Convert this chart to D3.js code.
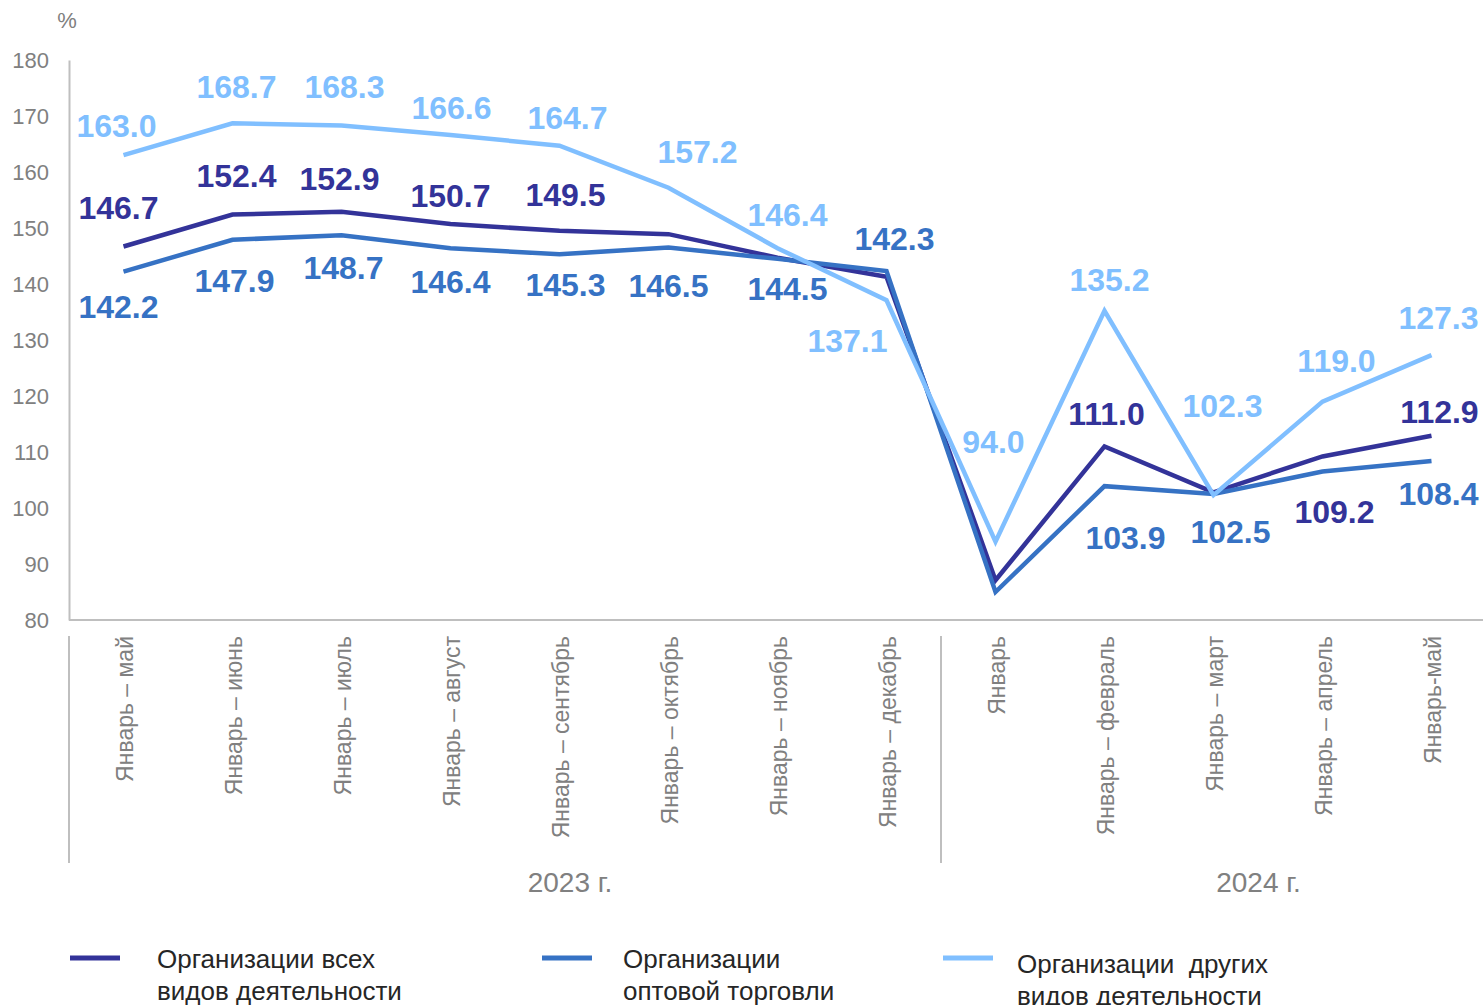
<!DOCTYPE html>
<html><head><meta charset="utf-8">
<script src="https://cdn.jsdelivr.net/npm/d3@7"></script>
<style>body{margin:0;background:#fff}svg{display:block}text{font-family:"Liberation Sans",Arial,sans-serif}</style>
</head><body><svg id="c" width="1483" height="1005"></svg>
<script>
const categories = ["Январь – май","Январь – июнь","Январь – июль","Январь – август","Январь – сентябрь","Январь – октябрь","Январь – ноябрь","Январь – декабрь","Январь","Январь – февраль","Январь – март","Январь – апрель","Январь-май"];
const groups = [{label:"2023 г.", from:0, to:7},{label:"2024 г.", from:8, to:12}];
const allOrgs = [146.7,152.4,152.9,150.7,149.5,148.9,144.7,141.3,87.1,111.0,102.8,109.2,112.9];
const wholesale = [142.2,147.9,148.7,146.4,145.3,146.5,144.5,142.3,85.0,103.9,102.5,106.5,108.4];
const others = [163.0,168.7,168.3,166.6,164.7,157.2,146.4,137.1,94.0,135.2,102.3,119.0,127.3];
const yTicks = [80,90,100,110,120,130,140,150,160,170,180];
const seriesNames = ["Организации всех|видов деятельности","Организации|оптовой торговли","Организации  других|видов деятельности"];
const showAll = [1,1,1,1,1,0,0,0,0,1,0,1,1];
const showWholesale = [1,1,1,1,1,1,1,1,0,1,1,0,1];
const showOthers = [1,1,1,1,1,1,1,1,1,1,1,1,1];
// label offsets (dx, dy of label centre relative to point)
const offAll = [[-5,-39],[4,-39],[-2,-33],[0,-29],[6,-36],[0,0],[0,0],[0,0],[0,0],[2,-33],[0,0],[12,55],[8,-24]];
const offWholesale = [[-5,35],[2,41],[2,32],[0,33],[6,30],[0,38],[10,30],[8,-33],[0,0],[21,51],[17,37],[0,0],[7,33]];
const offOthers = [[-7,-30],[4,-37],[3,-39],[1,-28],[8,-28],[29,-36],[10,-34],[-39,40],[-2,-100],[5,-31],[9,-90],[14,-41],[7,-38]];

const series = [
  {name:seriesNames[0], values:allOrgs, color:"#333399", show:showAll, off:offAll},
  {name:seriesNames[1], values:wholesale, color:"#3672c4", show:showWholesale, off:offWholesale},
  {name:seriesNames[2], values:others, color:"#80bfff", show:showOthers, off:offOthers}
];

const svg = d3.select("#c");
const x = d3.scalePoint().domain(categories).range([69,1486]).padding(0.5);
const y = d3.scaleLinear().domain([80,180]).range([620,60]);
const gray = "#bfbfbf", tcol = "#808080";

// y axis
const ya = svg.append("g").attr("transform","translate(69,0)")
  .call(d3.axisLeft(y).tickValues(yTicks).tickSize(0).tickPadding(20));
ya.select(".domain").attr("stroke",gray).attr("stroke-width",2);
ya.selectAll("text").attr("fill",tcol).attr("dy","0.36em").style("font-size","22px").style("font-family","Liberation Sans, Arial, sans-serif");
svg.append("text").attr("x",67).attr("y",28).attr("text-anchor","middle").attr("fill",tcol).style("font-size","22px").text("%");

// x axis line
svg.append("line").attr("x1",69).attr("x2",1483).attr("y1",y(80)).attr("y2",y(80)).attr("stroke",gray).attr("stroke-width",2);

// category labels
categories.forEach(c=>{
  svg.append("text").attr("transform",`translate(${x(c)+9},636) rotate(-90)`)
    .attr("text-anchor","end").attr("fill",tcol).style("font-size","23px").text(c);
});
// group separators and labels
const step = x.step();
const seps = [69, x(categories[8]) - step/2];
seps.forEach(sx=>svg.append("line").attr("x1",sx).attr("x2",sx).attr("y1",636).attr("y2",863).attr("stroke",gray).attr("stroke-width",2));
const groupShift = [65, 45];
groups.forEach((g,k)=>{
  const cx = (x(categories[g.from]) + x(categories[g.to]))/2 + groupShift[k];
  svg.append("text").attr("x",cx).attr("y",892).attr("text-anchor","middle").attr("fill",tcol).style("font-size","28px").text(g.label);
});

// lines
const line = d3.line().x((d,i)=>x(categories[i])).y(d=>y(d));
series.forEach(s=>{
  svg.append("path").datum(s.values).attr("d",line).attr("fill","none")
    .attr("stroke",s.color).attr("stroke-width",4.5).attr("stroke-linejoin","miter");
});
// labels
series.forEach(s=>{
  s.values.forEach((v,i)=>{
    if(!s.show[i]) return;
    svg.append("text").attr("x",x(categories[i])+s.off[i][0]).attr("y",y(v)+s.off[i][1]+11.5)
      .attr("text-anchor","middle").attr("fill",s.color).style("font-size","32px").style("font-weight","bold")
      .text(v.toFixed(1));
  });
});

// legend
const legX = [[70,157],[542,623],[943,1017]];
const legY = [[958,959],[958,959],[958,964]];
series.forEach((s,k)=>{
  svg.append("line").attr("x1",legX[k][0]).attr("x2",legX[k][0]+50).attr("y1",legY[k][0]).attr("y2",legY[k][0])
    .attr("stroke",s.color).attr("stroke-width",5);
  s.name.split("|").forEach((t,j)=>{
    svg.append("text").attr("x",legX[k][1]).attr("y",legY[k][1]+9+j*32).attr("fill","#262626")
      .style("font-size","26px").style("white-space","pre").text(t);
  });
});
</script></body></html>
